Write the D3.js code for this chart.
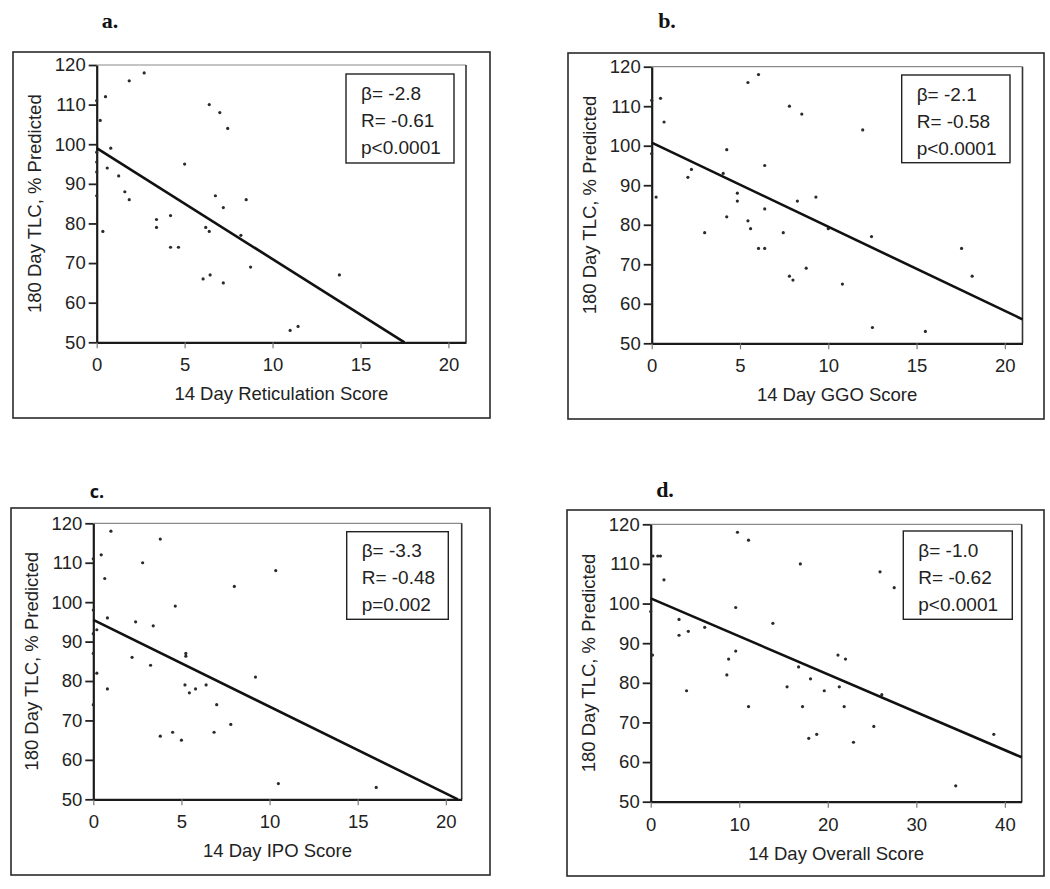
<!DOCTYPE html>
<html>
<head>
<meta charset="utf-8">
<script src="https://cdn.jsdelivr.net/npm/d3@7"></script>
<style>
  html, body { margin: 0; padding: 0; background: #fff; }
  svg { display: block; }
  .tick text { font-family: "Liberation Sans", Arial, sans-serif; font-size: 18.5px; fill: #222; }
</style>
</head>
<body>
<svg id="chart" width="1050" height="889"></svg>
<script>
// ---------------- DATA ----------------
const panelLetters = ["a.", "b.", "c.", "d."];
const xTitles = ["14 Day Reticulation Score", "14 Day GGO Score", "14 Day IPO Score", "14 Day Overall Score"];
const yTitle = "180 Day TLC, % Predicted";

const yTicks = [50, 60, 70, 80, 90, 100, 110, 120];
const xTicksScore = [0, 5, 10, 15, 20];
const xTicksOverall = [0, 10, 20, 30, 40];

// a. Reticulation
const retX = [2.7, 1.85, 0.5, 0.2, 0.8, 0.6, 1.25, 1.6, 1.85, 0.35, 3.4, 3.4, 4.2, 4.2, 4.65, 5.0, 6.4, 7.0, 7.45, 6.75, 7.2, 6.2, 6.4, 8.5, 8.2, 8.75, 6.05, 6.45, 7.2, 13.8, 11.0, 11.45, 0, 0, 0, 0, 0];
const retY = [118, 116, 112, 106, 99, 94, 92, 88, 86, 78, 81, 79, 82, 74, 74, 95, 110, 108, 104, 87, 84, 79, 78, 86, 77, 69, 66, 67, 65, 67, 53, 54, 111, 98, 95.5, 93, 87];
// b. GGO
const ggoX = [5.45, 6.05, 0.5, 0.7, 0.25, 0, 0, 4.25, 2.25, 2.05, 4.05, 3.0, 4.85, 4.85, 4.25, 5.45, 5.6, 6.4, 6.4, 6.05, 6.4, 7.8, 8.5, 7.45, 8.25, 9.3, 8.75, 7.8, 8.0, 10.0, 10.8, 11.95, 12.45, 12.5, 15.5, 17.55, 18.15];
const ggoY = [116, 118, 112, 106, 87, 111.5, 98, 99, 94, 92, 93, 78, 88, 86, 82, 81, 79, 95, 84, 74, 74, 110, 108, 78, 86, 87, 69, 67, 66, 79, 65, 104, 77, 54, 53, 74, 67];
// c. IPO
const ipoX = [1.0, 3.8, 0.45, 0.65, 2.8, 4.65, 0.8, 2.4, 3.4, 0.2, 2.2, 3.25, 5.25, 5.25, 0.2, 0.8, 5.2, 5.45, 5.8, 6.4, 7.0, 7.8, 6.85, 3.8, 4.5, 5.0, 8.0, 10.35, 9.2, 10.5, 16.05, 0, 0, 0, 0, 0];
const ipoY = [118, 116, 112, 106, 110, 99, 96, 95, 94, 93, 86, 84, 87, 86.3, 82, 78, 79, 77, 78, 79, 74, 69, 67, 66, 67, 65, 104, 108, 81, 54, 53, 111, 98, 92, 87, 74];
// d. Overall
const ovrX = [9.8, 11.05, 0.25, 0.8, 1.1, 1.5, 16.9, 25.9, 27.5, 9.6, 3.2, 13.8, 6.1, 4.25, 3.2, 9.6, 8.8, 21.15, 22.0, 0.2, 16.7, 8.6, 18.05, 15.4, 21.3, 19.6, 4.05, 26.1, 11.05, 17.15, 21.85, 25.2, 18.75, 17.85, 22.9, 38.75, 34.45, 0];
const ovrY = [118, 116, 112, 112, 112, 106, 110, 108, 104, 99, 96, 95, 94, 93, 92, 88, 86, 87, 86, 87, 84, 82, 81, 79, 79, 78, 78, 77, 74, 74, 74, 69, 67, 66, 65, 67, 54, 98];

// regression lines as drawn (intercept, slope)
const fitIntercept = [99, 100.8, 95.5, 101.3];
const fitSlope = [-2.8, -2.13, -2.2, -0.957];

// statistics boxes
const statBeta = ["\u03B2= -2.8", "\u03B2= -2.1", "\u03B2= -3.3", "\u03B2= -1.0"];
const statR = ["R= -0.61", "R= -0.58", "R= -0.48", "R= -0.62"];
const statP = ["p<0.0001", "p<0.0001", "p=0.002", "p<0.0001"];

const xMax = [21, 21, 20.9, 41.9];

// ---------------- LAYOUT ----------------
const layout = [
  { frame: [13, 52, 490, 418],   plot: [96.7, 65, 466, 342.3],    legend: [346, 74, 454, 163],     letter: [110, 21, "serif"] },
  { frame: [568, 53, 1044, 419], plot: [651.7, 66.7, 1022.5, 343.3], legend: [901.7, 75, 1010, 162.7], letter: [667, 21, "serif"] },
  { frame: [11, 508, 490, 875],  plot: [93.3, 523.3, 461.7, 799.3], legend: [346.7, 531.7, 448.3, 619.3], letter: [97, 491, "sans"] },
  { frame: [567, 510, 1044, 876], plot: [650.7, 524.3, 1021.7, 801.7], legend: [903.3, 531, 1012.3, 619.3], letter: [665, 490, "serif"] }
];

const xs = [retX, ggoX, ipoX, ovrX];
const ys = [retY, ggoY, ipoY, ovrY];

const svg = d3.select("#chart");
const FONT = "'Liberation Sans', Arial, sans-serif";

layout.forEach((L, i) => {
  const [fx0, fy0, fx1, fy1] = L.frame;
  const [px0, py0, px1, py1] = L.plot;

  // outer frame
  svg.append("rect")
    .attr("x", fx0).attr("y", fy0)
    .attr("width", fx1 - fx0).attr("height", fy1 - fy0)
    .attr("fill", "none").attr("stroke", "#2a2a2a").attr("stroke-width", 1.6);

  // panel letter
  svg.append("text")
    .attr("x", L.letter[0]).attr("y", L.letter[1] + 7)
    .attr("text-anchor", "middle")
    .attr("font-family", L.letter[2] === "serif" ? "'Liberation Serif', 'Times New Roman', serif" : "'Open Sans', sans-serif")
    .attr("font-weight", "bold")
    .attr("font-size", L.letter[2] === "serif" ? 22 : 18)
    .attr("fill", "#111")
    .text(panelLetters[i]);

  const x = d3.scaleLinear().domain([0, xMax[i]]).range([px0, px1]);
  const y = d3.scaleLinear().domain([50, 120]).range([py1, py0]);

  const g = svg.append("g");

  // top & right spines
  g.append("line").attr("x1", px0).attr("x2", px1).attr("y1", py0).attr("y2", py0)
    .attr("stroke", "#8a8a8a").attr("stroke-width", 1.2);
  g.append("line").attr("x1", px1).attr("x2", px1).attr("y1", py0).attr("y2", py1)
    .attr("stroke", "#333").attr("stroke-width", 1.6);

  // axes
  const xAxis = d3.axisBottom(x).tickValues(i === 3 ? xTicksOverall : xTicksScore)
    .tickSize(6).tickPadding(10).tickSizeOuter(0);
  const yAxis = d3.axisLeft(y).tickValues(yTicks).tickSize(8).tickPadding(3).tickSizeOuter(0);

  const gx = g.append("g").attr("transform", `translate(0,${py1})`).call(xAxis);
  const gy = g.append("g").attr("transform", `translate(${px0},0)`).call(yAxis);
  gx.select(".domain").attr("stroke", "#1a1a1a").attr("stroke-width", 2.2);
  gy.select(".domain").attr("stroke", "#1a1a1a").attr("stroke-width", 2.2);
  gx.selectAll(".tick line").attr("stroke", "#777").attr("stroke-width", 1.2);
  gy.selectAll(".tick line").attr("stroke", "#222").attr("stroke-width", 1.8);

  // axis titles
  g.append("text")
    .attr("x", (px0 + px1) / 2).attr("y", py1 + 58)
    .attr("text-anchor", "middle")
    .attr("font-family", FONT).attr("font-size", 18.5).attr("fill", "#222")
    .text(xTitles[i]);
  g.append("text")
    .attr("transform", `translate(${px0 - 55.5},${(py0 + py1) / 2}) rotate(-90)`)
    .attr("text-anchor", "middle")
    .attr("font-family", FONT).attr("font-size", 18.5).attr("fill", "#222")
    .text(yTitle);

  // points
  const pts = xs[i].map((v, k) => [v, ys[i][k]]);
  g.append("g").selectAll("circle").data(pts).join("circle")
    .attr("cx", d => x(d[0])).attr("cy", d => y(d[1]))
    .attr("r", 1.6).attr("fill", "#2a2a2a");

  // regression line
  const b0 = fitIntercept[i], b1 = fitSlope[i];
  const xEnd = Math.min(xMax[i], (50 - b0) / b1);
  g.append("line")
    .attr("x1", x(0)).attr("y1", y(b0))
    .attr("x2", x(xEnd)).attr("y2", y(b0 + b1 * xEnd))
    .attr("stroke", "#111").attr("stroke-width", 2.6);

  // statistics box
  const [lx0, ly0, lx1, ly1] = L.legend;
  g.append("rect").attr("x", lx0).attr("y", ly0)
    .attr("width", lx1 - lx0).attr("height", ly1 - ly0)
    .attr("fill", "#fff").attr("stroke", "#222").attr("stroke-width", 1.4);
  [statBeta[i], statR[i], statP[i]].forEach((t, k) => {
    g.append("text")
      .attr("x", lx0 + 15).attr("y", ly0 + 25.5 + k * 27)
      .attr("font-family", FONT).attr("font-size", 19).attr("fill", "#222")
      .text(t);
  });
});
</script>
</body>
</html>
